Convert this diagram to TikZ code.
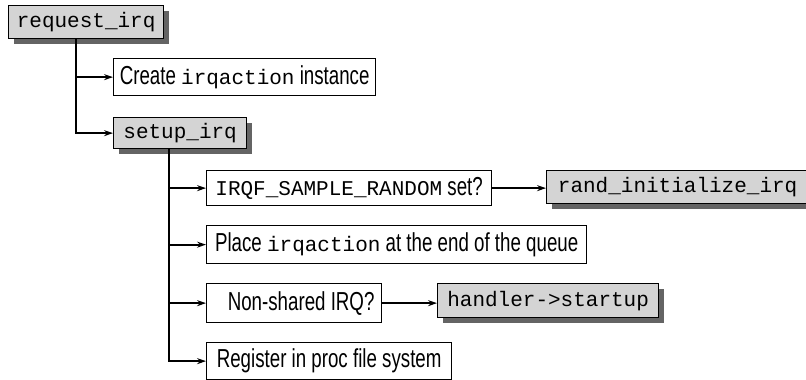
\documentclass[tikz,border=0pt]{standalone}
\usepackage{fontspec}
\setmainfont{Liberation Sans}[FakeStretch=0.72]
\newfontfamily\monofont{Liberation Mono}
\usetikzlibrary{arrows.meta, shadows}

\definecolor{boxgray}{RGB}{212,212,212}
\definecolor{shadegray}{RGB}{100,100,100}
\newcommand{\mono}[1]{{\monofont\fontsize{21}{24}\selectfont #1}}

\begin{document}
\begin{tikzpicture}[x=1pt, y=-1pt, >={Stealth[length=9pt, width=6pt]}, line width=2pt,
  stepbox/.style={draw, line width=1.3pt, fill=white, inner sep=0pt, anchor=north west,
    font=\fontsize{26}{30}\selectfont},
  codebox/.style={stepbox, fill=boxgray, font=\monofont\fontsize{21}{24}\selectfont,
    drop shadow={shadow xshift=5pt, shadow yshift=-5pt, fill=shadegray, opacity=1}}]

  \useasboundingbox (0,0) rectangle (806,380);

  % Top level
  \node[codebox, minimum width=155pt, minimum height=33pt] (req) at (8,5) {request\_irq};
  \node[stepbox, minimum width=262pt, minimum height=37pt] (create) at (113,58)
    {Create \mono{irqaction} instance};
  \node[codebox, minimum width=133pt, minimum height=31pt] (setup) at (113,117) {setup\_irq};

  % Steps of setup_irq
  \node[stepbox, minimum width=285pt, minimum height=35pt] (irqf) at (206,170)
    {\mono{IRQF\_SAMPLE\_RANDOM} set?};
  \node[codebox, minimum width=262pt, minimum height=33pt] (rand) at (546,170)
    {rand\_initialize\_irq};
  \node[stepbox, minimum width=380pt, minimum height=38pt] (place) at (206,225)
    {Place \mono{irqaction} at the end of the queue};
  \node[stepbox, minimum width=175pt, minimum height=39pt] (nonshared) at (206,283)
    {\hspace*{14pt}Non-shared IRQ?};
  \node[codebox, minimum width=221pt, minimum height=34pt] (handler) at (437,283)
    {handler->startup};
  \node[stepbox, minimum width=245pt, minimum height=37pt] (register) at (206,342)
    {Register in proc file system};

  % Connectors from request_irq
  \draw[->] ([xshift=68pt]req.south west) |- (create.west);
  \draw[->] ([xshift=68pt]req.south west) |- (setup.west);

  % Connectors from setup_irq
  \foreach \target in {irqf, place, nonshared, register}
    \draw[->] ([xshift=56pt]setup.south west) |- (\target.west);

  % Side branches
  \draw[->] (irqf.east) -- (irqf.east -| rand.west);
  \draw[->] (nonshared.east) -- (nonshared.east -| handler.west);

\end{tikzpicture}
\end{document}
